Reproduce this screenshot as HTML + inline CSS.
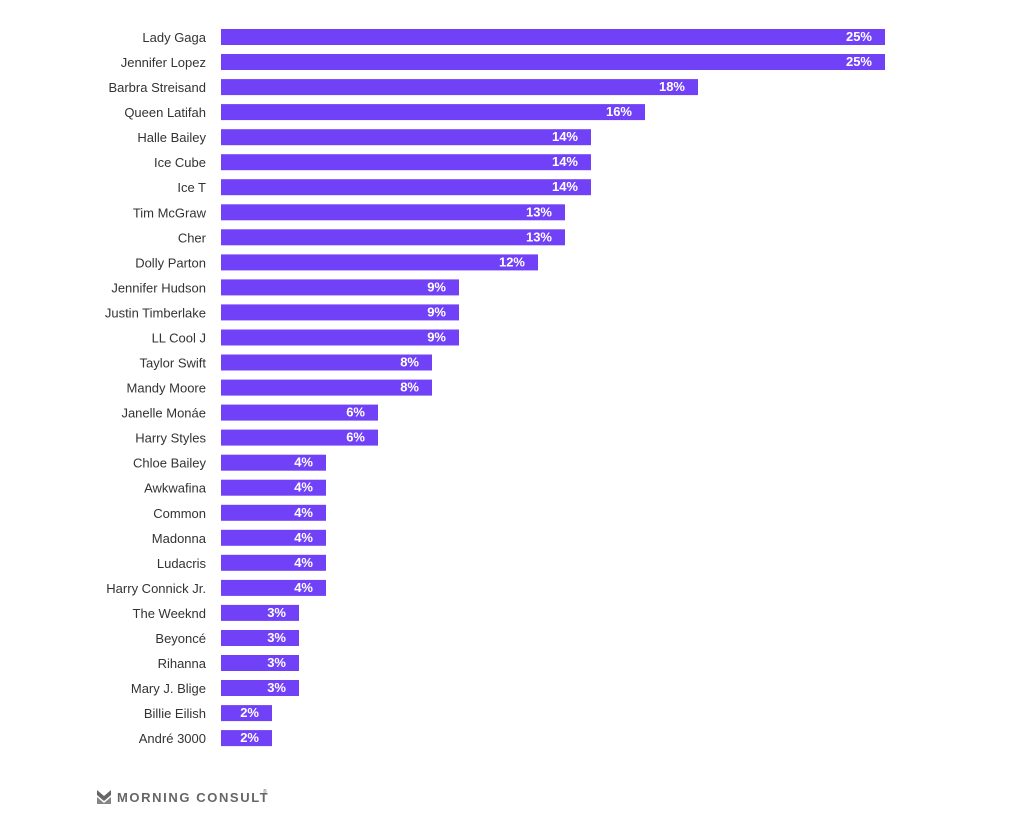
<!DOCTYPE html>
<html><head><meta charset="utf-8"><style>
body{margin:0;background:#fff;width:1035px;height:811px;overflow:hidden}
.l{font-size:13px;fill:#333;text-anchor:end}
.v{font-size:13px;font-weight:bold;fill:#fff;text-anchor:end}
</style></head><body>
<svg width="1035" height="811" xmlns="http://www.w3.org/2000/svg" font-family="Liberation Sans, sans-serif">
<g fill="#7141f8">
<rect x="221" y="29.0" width="664" height="16"/>
<rect x="221" y="54.0" width="664" height="16"/>
<rect x="221" y="79.1" width="477" height="16"/>
<rect x="221" y="104.1" width="424" height="16"/>
<rect x="221" y="129.2" width="370" height="16"/>
<rect x="221" y="154.2" width="370" height="16"/>
<rect x="221" y="179.2" width="370" height="16"/>
<rect x="221" y="204.3" width="344" height="16"/>
<rect x="221" y="229.3" width="344" height="16"/>
<rect x="221" y="254.4" width="317" height="16"/>
<rect x="221" y="279.4" width="238" height="16"/>
<rect x="221" y="304.4" width="238" height="16"/>
<rect x="221" y="329.5" width="238" height="16"/>
<rect x="221" y="354.5" width="211" height="16"/>
<rect x="221" y="379.6" width="211" height="16"/>
<rect x="221" y="404.6" width="157" height="16"/>
<rect x="221" y="429.6" width="157" height="16"/>
<rect x="221" y="454.7" width="105" height="16"/>
<rect x="221" y="479.7" width="105" height="16"/>
<rect x="221" y="504.8" width="105" height="16"/>
<rect x="221" y="529.8" width="105" height="16"/>
<rect x="221" y="554.8" width="105" height="16"/>
<rect x="221" y="579.9" width="105" height="16"/>
<rect x="221" y="604.9" width="78" height="16"/>
<rect x="221" y="630.0" width="78" height="16"/>
<rect x="221" y="655.0" width="78" height="16"/>
<rect x="221" y="680.0" width="78" height="16"/>
<rect x="221" y="705.1" width="51" height="16"/>
<rect x="221" y="730.1" width="51" height="16"/>
</g>
<g>
<text class="l" x="206" y="42.0">Lady Gaga</text>
<text class="l" x="206" y="67.0">Jennifer Lopez</text>
<text class="l" x="206" y="92.1">Barbra Streisand</text>
<text class="l" x="206" y="117.1">Queen Latifah</text>
<text class="l" x="206" y="142.2">Halle Bailey</text>
<text class="l" x="206" y="167.2">Ice Cube</text>
<text class="l" x="206" y="192.2">Ice T</text>
<text class="l" x="206" y="217.3">Tim McGraw</text>
<text class="l" x="206" y="242.3">Cher</text>
<text class="l" x="206" y="267.4">Dolly Parton</text>
<text class="l" x="206" y="292.4">Jennifer Hudson</text>
<text class="l" x="206" y="317.4">Justin Timberlake</text>
<text class="l" x="206" y="342.5">LL Cool J</text>
<text class="l" x="206" y="367.5">Taylor Swift</text>
<text class="l" x="206" y="392.6">Mandy Moore</text>
<text class="l" x="206" y="417.6">Janelle Monáe</text>
<text class="l" x="206" y="442.6">Harry Styles</text>
<text class="l" x="206" y="467.7">Chloe Bailey</text>
<text class="l" x="206" y="492.7">Awkwafina</text>
<text class="l" x="206" y="517.8">Common</text>
<text class="l" x="206" y="542.8">Madonna</text>
<text class="l" x="206" y="567.8">Ludacris</text>
<text class="l" x="206" y="592.9">Harry Connick Jr.</text>
<text class="l" x="206" y="617.9">The Weeknd</text>
<text class="l" x="206" y="643.0">Beyoncé</text>
<text class="l" x="206" y="668.0">Rihanna</text>
<text class="l" x="206" y="693.0">Mary J. Blige</text>
<text class="l" x="206" y="718.1">Billie Eilish</text>
<text class="l" x="206" y="743.1">André 3000</text>
</g>
<g>
<text class="v" x="872" y="41.0">25%</text>
<text class="v" x="872" y="66.0">25%</text>
<text class="v" x="685" y="91.1">18%</text>
<text class="v" x="632" y="116.1">16%</text>
<text class="v" x="578" y="141.2">14%</text>
<text class="v" x="578" y="166.2">14%</text>
<text class="v" x="578" y="191.2">14%</text>
<text class="v" x="552" y="216.3">13%</text>
<text class="v" x="552" y="241.3">13%</text>
<text class="v" x="525" y="266.4">12%</text>
<text class="v" x="446" y="291.4">9%</text>
<text class="v" x="446" y="316.4">9%</text>
<text class="v" x="446" y="341.5">9%</text>
<text class="v" x="419" y="366.5">8%</text>
<text class="v" x="419" y="391.6">8%</text>
<text class="v" x="365" y="416.6">6%</text>
<text class="v" x="365" y="441.6">6%</text>
<text class="v" x="313" y="466.7">4%</text>
<text class="v" x="313" y="491.7">4%</text>
<text class="v" x="313" y="516.8">4%</text>
<text class="v" x="313" y="541.8">4%</text>
<text class="v" x="313" y="566.8">4%</text>
<text class="v" x="313" y="591.9">4%</text>
<text class="v" x="286" y="616.9">3%</text>
<text class="v" x="286" y="642.0">3%</text>
<text class="v" x="286" y="667.0">3%</text>
<text class="v" x="286" y="692.0">3%</text>
<text class="v" x="259" y="717.1">2%</text>
<text class="v" x="259" y="742.1">2%</text>
</g>
<g transform="translate(97,790)" fill="#666">
<path d="M0 0 L7 6 L14 0 L14 5 L7 11 L0 5 Z"/>
<path d="M0 7 L7 13 L14 7 L14 14 L0 14 Z" opacity="0.8"/>
</g>
<text x="117" y="802" font-size="13" font-weight="bold" fill="#666" letter-spacing="1.6">MORNING CONSULT</text>
<text x="263" y="793" font-size="5" fill="#666">®</text>
</svg>
</body></html>
